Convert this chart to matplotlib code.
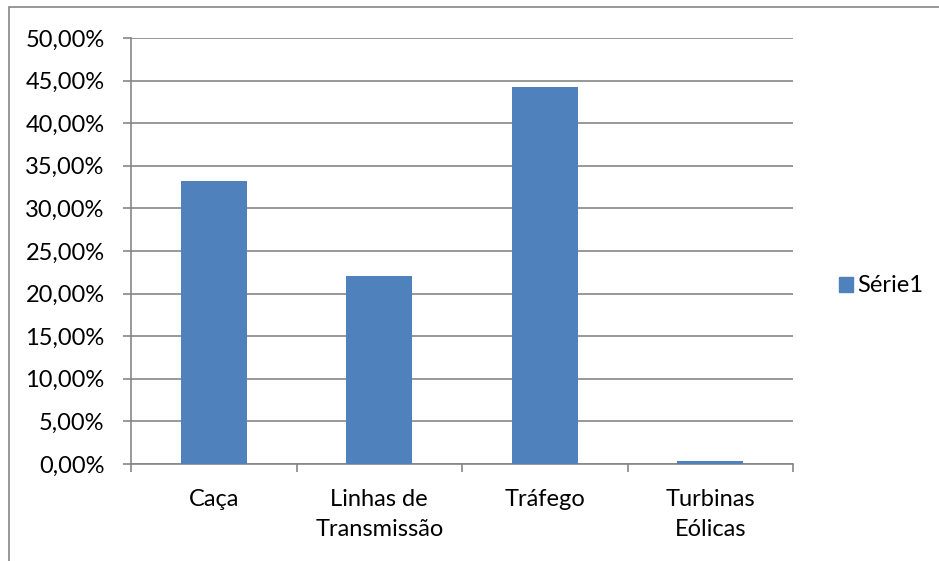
import matplotlib.pyplot as plt
import matplotlib.patches as mpatches
from matplotlib.ticker import FuncFormatter

plt.rcParams['font.family'] = ['Lato', 'DejaVu Sans']

# data
categorias = ['Caça', 'Linhas de\nTransmissão', 'Tráfego', 'Turbinas\nEólicas']
valores = [33.2, 22.1, 44.25, 0.35]
serie = 'Série1'

azul = '#4f81bd'
cinza = '#868686'
fs = 17

fig = plt.figure(figsize=(9.39, 5.61), dpi=100)
ax = fig.add_axes([131/939, 1 - 464/561, (793-131)/939, (464-38)/561])

x = range(len(categorias))
ax.bar(x, valores, width=0.4, color=azul, label=serie, zorder=3)

ax.set_xlim(-0.5, len(categorias) - 0.5)
ax.set_ylim(0, 50)
ax.set_yticks(range(0, 51, 5))
ax.yaxis.set_major_formatter(FuncFormatter(lambda v, p: ('%.2f%%' % v).replace('.', ',')))
ax.grid(axis='y', color=cinza, linewidth=1.2, zorder=0)

# category labels between boundary ticks
ax.set_xticks(list(x))
ax.set_xticklabels(categorias, fontsize=fs, linespacing=1.52)
ax.tick_params(axis='x', length=0, pad=18)
ax.set_xticks([i - 0.5 for i in range(len(categorias) + 1)], minor=True)
ax.tick_params(axis='x', which='minor', length=6, width=1.2, color=cinza)
ax.tick_params(axis='y', length=6, width=1.2, color=cinza, labelsize=fs, pad=13)

for s in ['top', 'right']:
    ax.spines[s].set_visible(False)
for s in ['left', 'bottom']:
    ax.spines[s].set_color(cinza)
    ax.spines[s].set_linewidth(1.2)

leg = fig.legend(handles=[mpatches.Patch(color=azul, label=serie)],
                 loc='center left', bbox_to_anchor=(818/939, 1 - 286/561),
                 frameon=False, fontsize=fs, handlelength=0.6, handleheight=0.6,
                 handletextpad=0.15)

# outer chart border (cut by the image edge)
borda = mpatches.Rectangle((9/939, -0.1), 1.1, 1 - 7/561 + 0.1, transform=fig.transFigure,
                           fill=False, edgecolor=cinza, linewidth=1.2, clip_on=False)
fig.patches.append(borda)

fig.savefig('out.png', dpi=100)
